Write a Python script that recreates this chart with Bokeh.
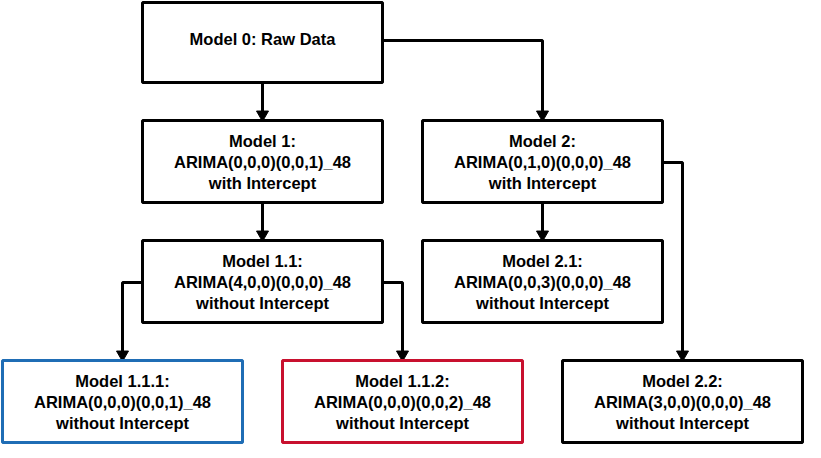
from bokeh.plotting import figure
from bokeh.models import ColumnDataSource, Range1d
from bokeh.core.properties import value
from bokeh.embed import file_html
from bokeh.resources import INLINE

# boxes: left, top, right, bottom (diagram pixel units)
box_names = ["Model 0: Raw Data",
             "Model 1:\nARIMA(0,0,0)(0,0,1)_48\nwith Intercept",
             "Model 2:\nARIMA(0,1,0)(0,0,0)_48\nwith Intercept",
             "Model 1.1:\nARIMA(4,0,0)(0,0,0)_48\nwithout Intercept",
             "Model 2.1:\nARIMA(0,0,3)(0,0,0)_48\nwithout Intercept",
             "Model 1.1.1:\nARIMA(0,0,0)(0,0,1)_48\nwithout Intercept",
             "Model 1.1.2:\nARIMA(0,0,0)(0,0,2)_48\nwithout Intercept",
             "Model 2.2:\nARIMA(3,0,0)(0,0,0)_48\nwithout Intercept"]
box_left = [150, 150, 430, 150, 430, 10, 290, 570]
box_top = [10, 128, 128, 248, 248, 368, 368, 368]
box_right = [390, 390, 670, 390, 670, 250, 530, 810]
box_bottom = [90, 210, 210, 330, 330, 450, 450, 450]
box_color = ["black", "black", "black", "black", "black",
             "#1f6db5", "#c8102e", "black"]

# connectors (polyline points) ending in an arrow
conn_x = [[270, 270], [390, 550, 550], [270, 270], [550, 550],
          [670, 690, 690], [150, 130, 130], [390, 410, 410]]
conn_y = [[90, 121], [48, 48, 121], [210, 241], [210, 241],
          [170, 170, 361], [290, 290, 361], [290, 290, 361]]

p = figure(width=813, height=450, output_backend="svg", toolbar_location=None,
           x_range=Range1d(8, 821), y_range=Range1d(458, 8),
           min_border=0)
p.axis.visible = False
p.grid.visible = False
p.outline_line_color = None

p.multi_line(conn_x, conn_y, line_color="black", line_width=3)
p.scatter([c[-1] for c in conn_x], [c[-1] + 1 for c in conn_y],
          marker="triangle", size=12, angle=3.14159,
          fill_color="black", line_color="black")

src = ColumnDataSource(dict(left=box_left, right=box_right, top=box_top,
                            bottom=box_bottom, color=box_color))
p.quad(left="left", right="right", top="top", bottom="bottom", source=src,
       fill_color="white", line_color="color", line_width=3)

tx, ty, tt = [], [], []
for name, l, t, r, b in zip(box_names, box_left, box_top, box_right, box_bottom):
    lines = name.split("\n")
    n = len(lines)
    cy = (t + b) / 2 - (4 if n == 1 else 0)
    for i, s in enumerate(lines):
        tx.append((l + r) / 2)
        ty.append(cy + (i - (n - 1) / 2) * 21)
        tt.append(s)
p.text(tx, ty, text=tt, text_align="center", text_baseline="middle",
       text_font=value("Liberation Sans"), text_font_style="bold",
       text_font_size="16.5px", text_color="black")

open("out.html", "w").write(file_html(p, INLINE))
